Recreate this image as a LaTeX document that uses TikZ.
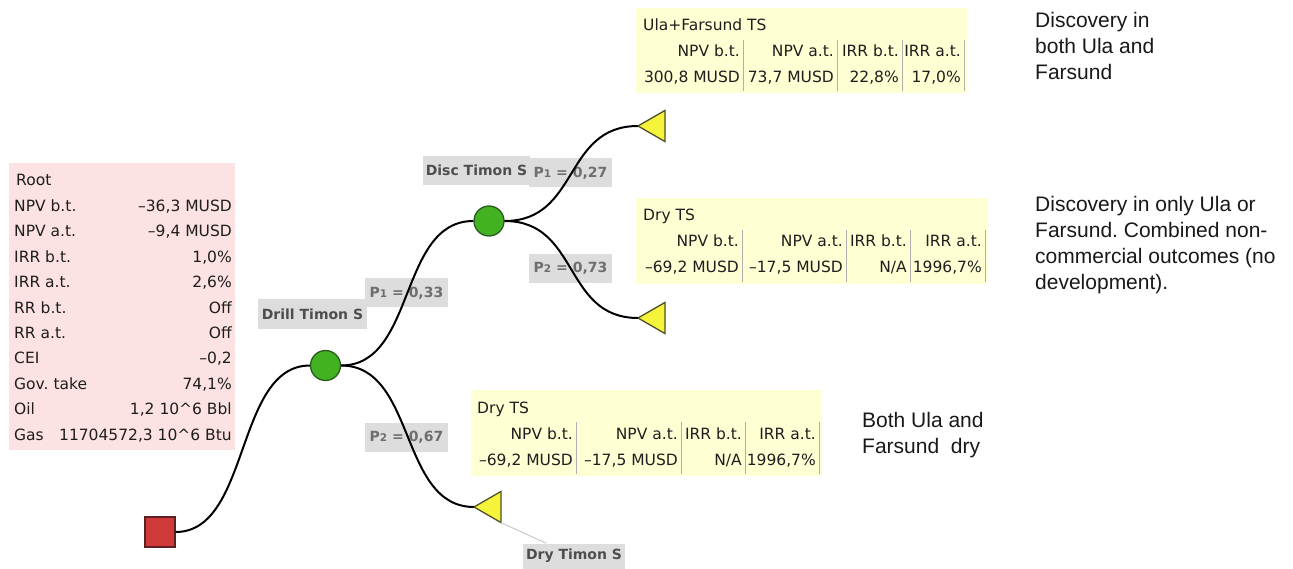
\documentclass[tikz,border=0pt]{standalone}
\usepackage{fontspec}
\setmainfont{DejaVu Sans}
\newfontfamily\notefont{Liberation Sans}
\usetikzlibrary{shapes.geometric}
\frenchspacing

\definecolor{pinkbg}{RGB}{252,226,226}
\definecolor{yelbg}{RGB}{255,255,212}
\definecolor{lblgray}{RGB}{221,221,221}
\definecolor{sepgray}{RGB}{175,175,175}
\definecolor{txt}{RGB}{30,30,30}
\definecolor{lbltxt}{RGB}{78,78,78}
\definecolor{ptxt}{RGB}{110,110,110}
\definecolor{chancefill}{RGB}{66,178,34}
\definecolor{chancedraw}{RGB}{40,92,30}
\definecolor{decfill}{RGB}{208,58,58}
\definecolor{decdraw}{RGB}{92,32,32}
\definecolor{endfill}{RGB}{246,244,58}
\definecolor{enddraw}{RGB}{80,80,40}

\newcommand\cellfont{\fontsize{15.5}{25}\selectfont}
\newcommand\tagfont{\bfseries\fontsize{14}{16}\selectfont}
\newcommand\notesize{\notefont\fontsize{21}{26}\selectfont}
\newcommand\pidx[1]{{\fontsize{10.5}{10}\selectfont #1}}

\begin{document}
\begin{tikzpicture}[x=1pt,y=-1pt,
  cell/.style={anchor=base east,inner sep=0,font=\cellfont,text=txt},
  lbl/.style={anchor=base west,inner sep=0,font=\cellfont,text=txt},
  sep/.style={draw=sepgray,line width=0.8},
  tag/.style={fill=lblgray,inner sep=0,minimum height=29,font=\tagfont,text=lbltxt},
  ptag/.style={tag,minimum width=83,text=ptxt},
  note/.style={anchor=north west,inner sep=0,align=left,font=\notesize,text=black!90},
  edge/.style={line width=2,black},
  chance/.style={circle,fill=chancefill,draw=chancedraw,line width=1.3,minimum size=30,inner sep=0},
  decision/.style={rectangle,fill=decfill,draw=decdraw,line width=1.3,minimum size=30,inner sep=0},
  terminal/.style={regular polygon,regular polygon sides=3,shape border rotate=90,
    fill=endfill,draw=enddraw,line width=1.3,minimum size=36,inner sep=0,outer sep=0}]

\useasboundingbox (0,0) rectangle (1293,569);
\fill[white] (0,0) rectangle (1293,569);

% ---- root summary ----
\fill[pinkbg] (9,163) rectangle (235,450);
\node[lbl] (root-title) at (16,186) {Root};
\foreach \lab/\val [count=\i] in {
  {NPV b.t.}/{–36,3 MUSD}, {NPV a.t.}/{–9,4 MUSD}, {IRR b.t.}/{1,0\%},
  {IRR a.t.}/{2,6\%}, {RR b.t.}/{Off}, {RR a.t.}/{Off}, {CEI}/{–0,2},
  {Gov. take}/{74,1\%}, {Oil}/{1,2 10\textasciicircum 6 Bbl},
  {Gas}/{11704572,3 10\textasciicircum 6 Btu}}{
  \node[lbl] (root-l\i) at (14,186+25.4*\i) {\lab};
  \node[cell] (root-v\i) at (232,186+25.4*\i) {\val};
}

% ---- outcome tables ----
\fill[yelbg] (636,8) rectangle (967,93);
\node[lbl] (ta-title) at (643,31) {Ula+Farsund TS};
\foreach \sx/\h/\v [count=\k] in {743/{NPV b.t.}/{300,8 MUSD}, 837/{NPV a.t.}/{73,7 MUSD},
  902/{IRR b.t.}/{22,8\%}, 964/{IRR a.t.}/{17,0\%}}{
  \draw[sep] (\sx,40) -- (\sx,91);
  \node[cell] (ta-h\k) at (\sx-3,57) {\h};
  \node[cell] (ta-v\k) at (\sx-3,83) {\v};
}

\fill[yelbg] (636,198) rectangle (988,284);
\node[lbl] (tb-title) at (643,221) {Dry TS};
\foreach \sx/\h/\v [count=\k] in {742/{NPV b.t.}/{–69,2 MUSD}, 846/{NPV a.t.}/{–17,5 MUSD},
  910/{IRR b.t.}/{N/A}, 985/{IRR a.t.}/{1996,7\%}}{
  \draw[sep] (\sx,230) -- (\sx,282);
  \node[cell] (tb-h\k) at (\sx-3,247) {\h};
  \node[cell] (tb-v\k) at (\sx-3,273) {\v};
}

\fill[yelbg] (471,390) rectangle (822,476);
\node[lbl] (tc-title) at (477,413) {Dry TS};
\foreach \sx/\h/\v [count=\k] in {576/{NPV b.t.}/{–69,2 MUSD}, 681/{NPV a.t.}/{–17,5 MUSD},
  745/{IRR b.t.}/{N/A}, 819/{IRR a.t.}/{1996,7\%}}{
  \draw[sep] (\sx,422) -- (\sx,474);
  \node[cell] (tc-h\k) at (\sx-3,439) {\h};
  \node[cell] (tc-v\k) at (\sx-3,465) {\v};
}

% ---- tree nodes ----
\node[decision] (sq) at (160,532) {};
\node[chance] (c1) at (325.5,365.5) {};
\node[chance] (c2) at (489,221) {};
\node[terminal,anchor=corner 1] (t1) at (638,126) {};
\node[terminal,anchor=corner 1] (t2) at (638,318) {};
\node[terminal,anchor=corner 1] (t3) at (474,507) {};

% ---- branch and node tags ----
\node[tag,minimum width=109] (drill) at (312.5,314) {Drill Timon S};
\node[tag,minimum width=107] (disc) at (476.5,170.5) {Disc Timon S};
\node[tag,minimum width=102,minimum height=25] (dry) at (574,556) {Dry Timon S};
\node[ptag] (p1a) at (406.5,293) {P\pidx{1} = 0,33};
\node[ptag] (p2a) at (406.5,437) {P\pidx{2} = 0,67};
\node[ptag] (p1b) at (570.5,173) {P\pidx{1} = 0,27};
\node[ptag] (p2b) at (570.5,268.5) {P\pidx{2} = 0,73};

% ---- branches ----
\draw[edge] (sq.east) .. controls +(75,0) and +(-75,0) .. (c1.west);
\draw[edge] (c1.east) .. controls +(75,0) and +(-75,0) .. (c2.west);
\draw[edge] (c1.east) .. controls +(75,0) and +(-75,0) .. (t3.corner 1);
\draw[edge] (c2.east) .. controls +(75,0) and +(-75,0) .. (t1.corner 1);
\draw[edge] (c2.east) .. controls +(75,0) and +(-75,0) .. (t2.corner 1);
\draw[black!25,line width=0.8] (t3.corner 2) -- (dry);

% ---- comments ----
\node[note] (n1) at (1035,12.5) {Discovery in\\both Ula and\\Farsund};
\node[note] (n2) at (1035,196.5) {Discovery in only Ula or\\Farsund. Combined non-\\commercial outcomes (no\\development).};
\node[note] (n3) at (862,412.5) {Both Ula and\\Farsund~ dry};
\end{tikzpicture}
\end{document}
